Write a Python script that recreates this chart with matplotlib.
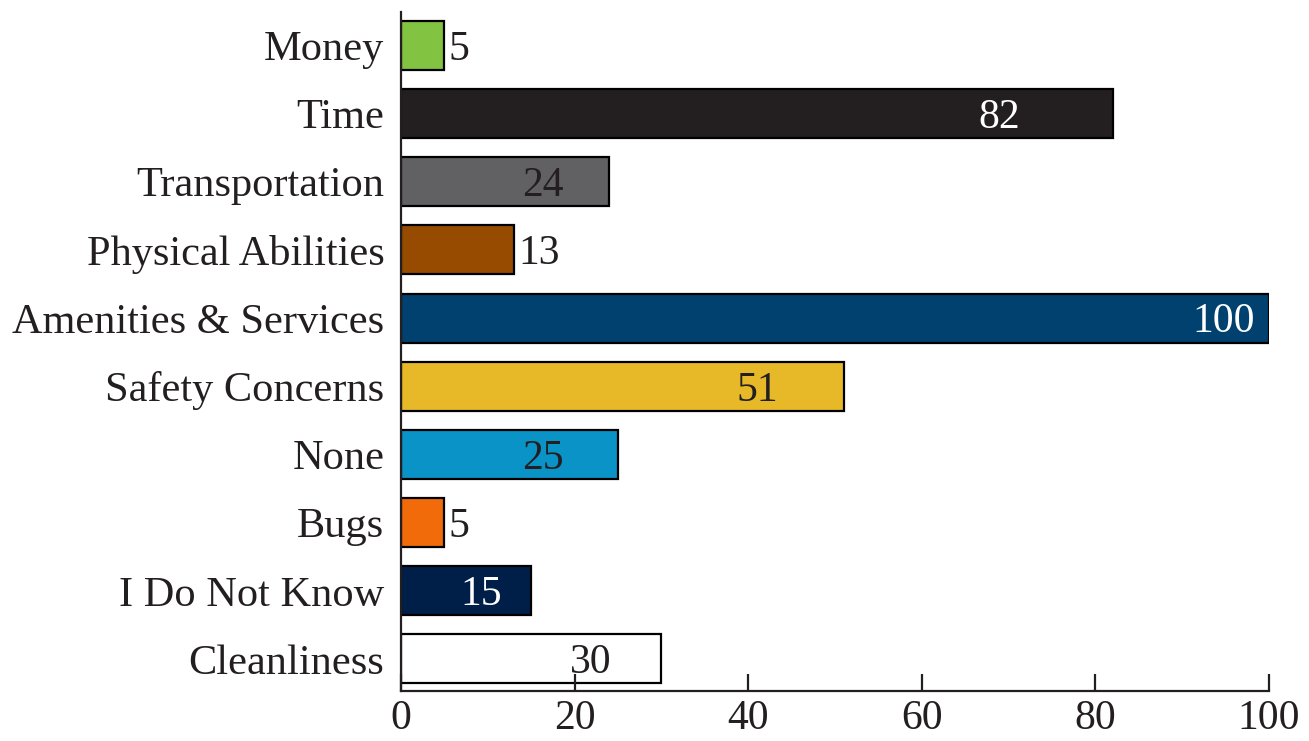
import numpy as np
import matplotlib.pyplot as plt

categories = ['Money', 'Time', 'Transportation', 'Physical Abilities',
              'Amenities & Services', 'Safety Concerns', 'None', 'Bugs',
              'I Do Not Know', 'Cleanliness']
values = [5, 82, 24, 13, 100, 51, 25, 5, 15, 30]
colors = ['#82c341', '#231f20', '#616062', '#964b00', '#004170',
          '#e7b928', '#0a93c7', '#f26b0b', '#001f48', '#ffffff']
label_colors = ['#231f20', 'white', '#231f20', '#231f20', 'white',
                '#231f20', '#231f20', '#231f20', 'white', '#231f20']
# where the value label sits (None = just outside the bar)
label_x = [None, 68.9, 16.4, None, 94.8, 41.1, 16.4, None, 9.2, 21.9]

plt.rcParams['font.family'] = ['Liberation Serif', 'DejaVu Serif']

fig = plt.figure(figsize=(13.09, 7.41), dpi=100)
ax = fig.add_axes([0.3063, 0.0675, 0.6631, 0.9163])

y = np.arange(len(categories))
ax.barh(y, values, height=0.72, color=colors, edgecolor='black', linewidth=1.6)

for i, v in enumerate(values):
    if label_x[i] is None:
        ax.text(v + 0.5, i + 0.06, str(v), ha='left', va='center', fontsize=30,
                color=label_colors[i])
    else:
        ax.text(label_x[i], i + 0.06, str(v), ha='center', va='center', fontsize=30,
                color=label_colors[i])

ax.set_yticks(y)
ax.set_yticklabels(categories, fontsize=30.5, color='#231f20',
                   va='center_baseline')
ax.set_ylim(len(categories) - 1 + 0.47, -0.49)
ax.set_xlim(0, 100)
ax.set_xticks([0, 20, 40, 60, 80, 100])
ax.tick_params(axis='x', direction='in', length=12, width=1.6, labelsize=30,
               colors='#231f20', pad=6)
ax.tick_params(axis='y', length=0, pad=12)

for s in ['top', 'right']:
    ax.spines[s].set_visible(False)
for s in ['left', 'bottom']:
    ax.spines[s].set_linewidth(1.6)
    ax.spines[s].set_color('#231f20')

fig.savefig('out.png', dpi=100)
